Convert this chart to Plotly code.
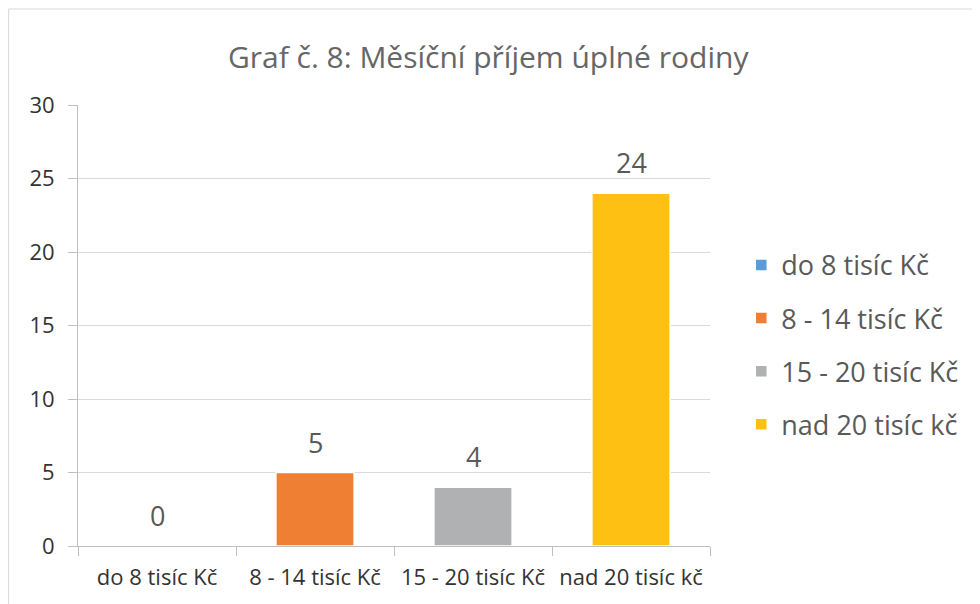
import plotly.graph_objects as go

categories = ["do 8 tisíc Kč", "8 - 14 tisíc Kč", "15 - 20 tisíc Kč", "nad 20 tisíc kč"]
values = [0, 5, 4, 24]
colors = ["#5B9BD5", "#EE7F33", "#B0B1B3", "#FDC013"]
title = "Graf č. 8: Měsíční příjem úplné rodiny"

FONT = "Open Sans, Noto Sans, sans-serif"

W, H = 972, 596
L, R, T, B = 70, 270, 97, 58
PW, PH = W - L - R, H - T - B

fig = go.Figure()
for i, (c, v, col) in enumerate(zip(categories, values, colors)):
    fig.add_trace(go.Bar(x=[c], y=[v], name=c, marker_color=col,
                         legendgroup=str(i), marker_line_width=1.5, marker_line_color="white"))
    fig.add_annotation(x=c, y=v, text=str(v), showarrow=False, yanchor="bottom",
                       yshift=10, font=dict(size=27, color="#595959", family=FONT))

fig.update_layout(
    width=W, height=H,
    margin=dict(l=L, r=R, t=T, b=B),
    paper_bgcolor="white", plot_bgcolor="white",
    barmode="overlay", bargap=0.505,
    title=dict(text=title, x=0.494, xanchor="center", xref="container", y=1 - 49 / H, yanchor="middle",
               font=dict(size=30, color="#666666", family=FONT)),
    font=dict(family=FONT, color="#595959"),
    legend=dict(x=1.0495, y=0.456, xanchor="left", yanchor="middle",
                font=dict(size=27, color="#595959", family=FONT),
                traceorder="grouped", tracegroupgap=15, itemwidth=30),
    showlegend=True,
)
fig.update_xaxes(type="category", categoryorder="array", categoryarray=categories,
                 showline=True, linecolor="#BFBFBF", linewidth=1,
                 ticks="outside", tickson="boundaries", ticklen=9, tickcolor="#BFBFBF",
                 ticklabelstandoff=12,
                 tickfont=dict(size=22, color="#333333", family=FONT), showgrid=False)
fig.update_yaxes(range=[0, 30], dtick=5, showgrid=True, gridcolor="#D9D9D9", gridwidth=1,
                 showline=True, linecolor="#BFBFBF", linewidth=1,
                 ticks="outside", ticklen=9, tickcolor="#BFBFBF",
                 ticklabelstandoff=9,
                 tickfont=dict(size=22, color="#333333", family=FONT), zeroline=False)

fig.add_shape(type="rect", xref="paper", yref="paper",
              x0=-L / PW + 0.001, x1=(W - L + 20) / PW,
              y0=-(B + 20) / PH, y1=(PH + T - 1) / PH,
              line=dict(color="#D9D9D9", width=1), fillcolor="rgba(0,0,0,0)", layer="below")

fig.write_html("out.html")
